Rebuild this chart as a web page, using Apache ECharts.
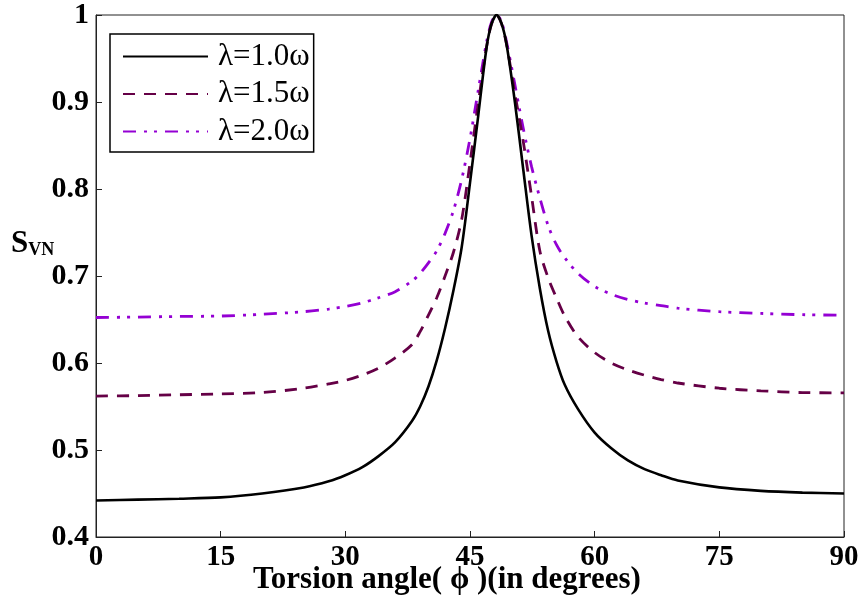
<!DOCTYPE html>
<html>
<head>
<meta charset="utf-8">
<script src="https://cdn.jsdelivr.net/npm/echarts@6/dist/echarts.min.js"></script>
<style>
html,body{margin:0;padding:0;background:#fff;}
#chart{width:864px;height:606px;}
</style>
</head>
<body>
<div id="chart"></div>
<script>
// Torsion angle (degrees)
var torsionAngle = [0,5,10,15,20,25,28,30,32,34,36,38,39,40,41,42,43,44,45,46,47,47.6,48.2,48.8,49.4,50.4,51.4,52.4,53.4,54.4,55.4,56.4,58,60,62,64,66,68,70,75,80,85,90];
// S_VN for lambda = 1.0 omega
var sLambda10 = [0.442,0.443,0.444,0.4455,0.450,0.457,0.464,0.471,0.480,0.493,0.509,0.533,0.550,0.573,0.603,0.640,0.683,0.733,0.807,0.885,0.963,0.990,1.000,0.990,0.966,0.900,0.823,0.747,0.686,0.637,0.602,0.575,0.547,0.520,0.502,0.488,0.478,0.471,0.465,0.457,0.453,0.451,0.450];
// S_VN for lambda = 1.5 omega
var sLambda15 = [0.562,0.5625,0.5635,0.5645,0.566,0.571,0.576,0.580,0.586,0.594,0.606,0.621,0.636,0.655,0.675,0.700,0.727,0.765,0.830,0.899,0.964,0.990,1.000,0.990,0.966,0.910,0.855,0.792,0.729,0.698,0.675,0.654,0.630,0.612,0.600,0.592,0.586,0.581,0.577,0.571,0.568,0.566,0.5657];
// S_VN for lambda = 2.0 omega
var sLambda20 = [0.6523,0.6528,0.6535,0.654,0.656,0.659,0.662,0.665,0.669,0.675,0.682,0.694,0.703,0.715,0.729,0.749,0.775,0.811,0.858,0.914,0.969,0.992,1.000,0.992,0.969,0.920,0.870,0.826,0.790,0.758,0.736,0.721,0.703,0.688,0.679,0.673,0.669,0.666,0.663,0.659,0.657,0.6555,0.655];
var seriesNames = ['\u03bb=1.0\u03c9','\u03bb=1.5\u03c9','\u03bb=2.0\u03c9'];
var xTicks = [0,15,30,45,60,75,90];
var yTicks = [0.4,0.5,0.6,0.7,0.8,0.9,1];

function pairs(xs, ys){ return xs.map(function(x,i){ return [x, ys[i]]; }); }

var serif = '"Liberation Serif","DejaVu Serif",serif';
var chart = echarts.init(document.getElementById('chart'), null, {renderer:'canvas'});
chart.setOption({
  animation:false,
  backgroundColor:'#fff',
  grid:{left:96,right:20,top:13,bottom:69,show:true,borderColor:'#222',borderWidth:1,backgroundColor:'transparent'},
  xAxis:{
    type:'value',min:0,max:90,interval:15,
    axisLine:{show:true,lineStyle:{color:'#222',width:1}},
    axisTick:{show:true,inside:true,length:6,lineStyle:{color:'#222'}},
    splitLine:{show:false},
    axisLabel:{color:'#000',fontFamily:serif,fontWeight:'bold',fontSize:29,margin:6,
      formatter:function(v){ return xTicks.indexOf(v)>=0 ? String(v) : ''; }}
  },
  yAxis:{
    type:'value',min:0.4,max:1,interval:0.1,
    axisLine:{show:true,lineStyle:{color:'#222',width:1}},
    axisTick:{show:true,inside:true,length:6,lineStyle:{color:'#222'}},
    splitLine:{show:false},
    axisLabel:{color:'#000',fontFamily:serif,fontWeight:'bold',fontSize:30,margin:7,
      formatter:function(v){
        for (var i=0;i<yTicks.length;i++){ if (Math.abs(yTicks[i]-v)<1e-6) return String(yTicks[i]); }
        return '';
      }}
  },
  legend:{
    orient:'vertical',left:110,top:34,
    data:seriesNames,
    itemWidth:85,itemHeight:28,itemGap:6.5,
    padding:[7,4,5,12],
    itemStyle:{opacity:0},
    borderColor:'#000',borderWidth:1.5,backgroundColor:'#fff',
    textStyle:{fontFamily:serif,fontSize:31,color:'#000',lineHeight:30,padding:[0,0,0,5]}
  },
  graphic:[
    {type:'text',left:253,top:564,
      style:{text:'Torsion angle( \u03d5 )(in degrees)',fontFamily:serif,fontWeight:'bold',fontSize:31,fill:'#000'}},
    {type:'text',left:11,top:228,
      style:{text:'{s|S}{v|VN}',rich:{
        s:{fontFamily:serif,fontWeight:'bold',fontSize:31,fill:'#000',verticalAlign:'bottom'},
        v:{fontFamily:serif,fontWeight:'bold',fontSize:18,fill:'#000',verticalAlign:'bottom',padding:[13,0,0,0]}
      }}}
  ],
  series:[
    {name:seriesNames[0],type:'line',data:pairs(torsionAngle,sLambda10),symbol:'none',smooth:0.3,
      lineStyle:{color:'#000',width:2.6,type:'solid'},itemStyle:{color:'#000'},z:3},
    {name:seriesNames[1],type:'line',data:pairs(torsionAngle,sLambda15),symbol:'none',smooth:0.3,
      lineStyle:{color:'#650046',width:2.8,type:[12,9],cap:'butt'},itemStyle:{color:'#650046'},z:2},
    {name:seriesNames[2],type:'line',data:pairs(torsionAngle,sLambda20),symbol:'none',smooth:0.3,
      lineStyle:{color:'#9400d3',width:2.8,type:[13,8,3,7,3,8],cap:'butt'},itemStyle:{color:'#9400d3'},z:1}
  ]
});
</script>
</body>
</html>
